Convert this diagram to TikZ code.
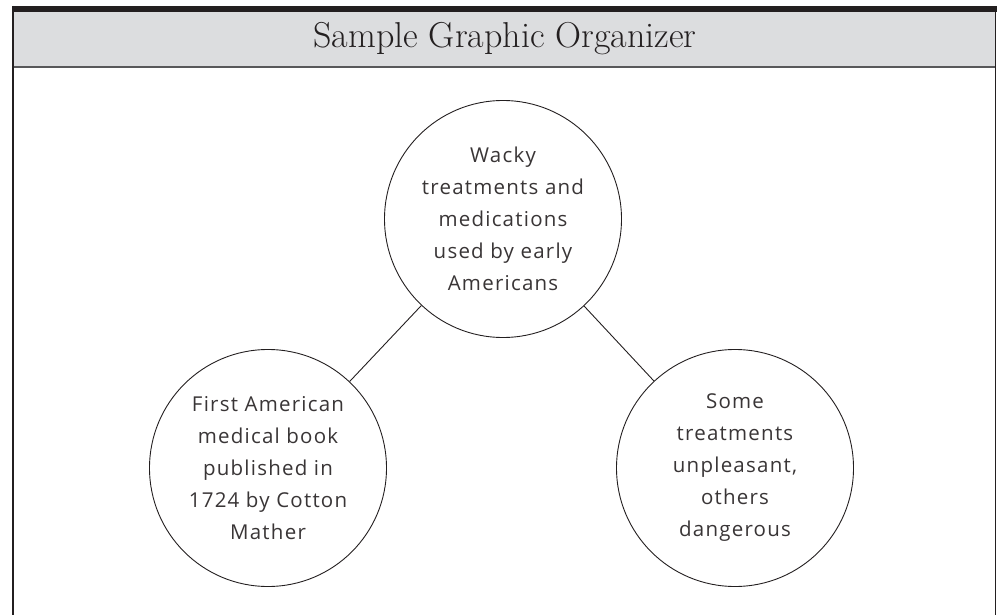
\documentclass[tikz,border=0pt]{standalone}
\usepackage{fontspec}
\newfontfamily\handfont[LetterSpace=6]{Open Sans}
\definecolor{hdr}{HTML}{DCDDDF}
\definecolor{ink}{HTML}{231F20}
\definecolor{rule}{HTML}{58585A}
\tikzset{
  bubble/.style={circle, draw=ink, line width=0.9pt, minimum size=237pt, inner sep=0pt, align=center, text=ink!90, font=\handfont\fontsize{20.5}{32}\selectfont},
  link/.style={draw=ink, line width=0.9pt}
}
\begin{document}
\begin{tikzpicture}[x=1pt,y=-1pt]
\useasboundingbox (0,0) rectangle (998,615);
% header
\fill[hdr] (12,12) rectangle (995.5,66);
\draw[rule, line width=1.5pt] (12,67) -- (995.5,67);
\fill[ink] (12,6) rectangle (997,12);
\draw[ink, line width=1.5pt] (12.75,6) -- (12.75,615);
\draw[ink, line width=1.5pt] (995.25,12) -- (995.25,615);
\node[text=ink, font=\fontsize{36}{40}\selectfont] (title) at (505,39) {Sample Graphic Organizer};
% bubbles
\node[bubble] (top) at (503,219) {Wacky\\treatments and\\medications\\used by early\\Americans};
\node[bubble] (left) at (268,468) {First American\\medical book\\published in\\1724 by Cotton\\Mather};
\node[bubble] (right) at (735,468) {Some\\treatments\\unpleasant,\\others\\dangerous};
\draw[link] (top) -- (left);
\draw[link] (top) -- (right);
\end{tikzpicture}
\end{document}
